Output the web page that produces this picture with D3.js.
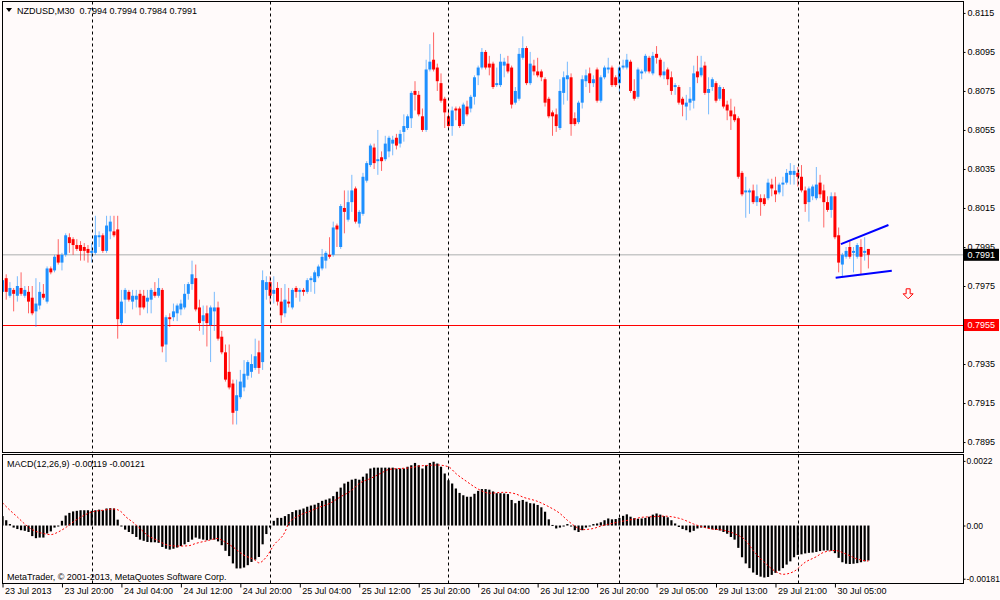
<!DOCTYPE html>
<html>
<head>
<meta charset="utf-8">
<script src="https://cdn.jsdelivr.net/npm/d3@7"></script>
<style>
  body { margin: 0; background: #fffafa; }
  text { font-family: "Liberation Sans", Arial, sans-serif; }
</style>
</head>
<body>
<div id="chart"></div>
<script>
// NZDUSD M30 bars (one entry per bar, oldest first)
const opens = [
  0.7972,0.7979,0.7970,0.7973,0.7970,0.7974,0.7970,0.7972,0.7969,0.7962,
  0.7965,0.7971,0.7967,0.7984,0.7983,0.7991,0.7987,0.7991,0.8000,0.7999,
  0.7996,0.7996,0.7995,0.7994,0.7992,0.7992,0.8000,0.8001,0.7993,0.8003,
  0.8003,0.8004,0.7956,0.7968,0.7972,0.7967,0.7968,0.7971,0.7970,0.7967,
  0.7968,0.7972,0.7970,0.7973,0.7945,0.7959,0.7959,0.7961,0.7963,0.7964,
  0.7971,0.7976,0.7979,0.7964,0.7957,0.7961,0.7955,0.7962,0.7964,0.7949,
  0.7941,0.7931,0.7925,0.7911,0.7918,0.7923,0.7929,0.7931,0.7933,0.7941,
  0.7936,0.7973,0.7977,0.7971,0.7974,0.7967,0.7961,0.7967,0.7964,0.7974,
  0.7972,0.7973,0.7972,0.7978,0.7977,0.7980,0.7984,0.7988,0.7991,0.7991,
  0.8006,0.7995,0.8015,0.8009,0.8018,0.8025,0.8007,0.8012,0.8029,0.8037,
  0.8046,0.8039,0.8041,0.8040,0.8044,0.8048,0.8051,0.8048,0.8054,0.8056,
  0.8061,0.8075,0.8073,0.8062,0.8055,0.8086,0.8091,0.8087,0.8079,0.8071,
  0.8062,0.8057,0.8066,0.8066,0.8058,0.8067,0.8066,0.8072,0.8083,0.8087,
  0.8095,0.8089,0.8089,0.8078,0.8078,0.8088,0.8089,0.8087,0.8069,0.8071,
  0.8092,0.8097,0.8079,0.8088,0.8085,0.8085,0.8081,0.8071,0.8064,0.8063,
  0.8056,0.8074,0.8081,0.8082,0.8061,0.8059,0.8069,0.8080,0.8084,0.8079,
  0.8086,0.8070,0.8082,0.8086,0.8087,0.8082,0.8079,0.8087,0.8087,0.8090,
  0.8075,0.8072,0.8084,0.8085,0.8092,0.8084,0.8094,0.8091,0.8083,0.8086,
  0.8082,0.8077,0.8077,0.8071,0.8067,0.8069,0.8070,0.8085,0.8083,0.8088,
  0.8074,0.8077,0.8079,0.8071,0.8076,0.8068,0.8065,0.8063,0.8061,0.8033,
  0.8023,0.8023,0.8024,0.8018,0.8020,0.8020,0.8020,0.8027,0.8024,0.8023,
  0.8027,0.8028,0.8032,0.8032,0.8033,0.8031,0.8024,0.8018,0.8021,0.8020,
  0.8028,0.8024,0.8018,0.8014,0.8021,0.8001,0.7986,0.7990,0.7995,0.7992,
  0.7990,0.7995,0.7992,0.7994
];
const highs = [
  0.7982,0.7981,0.7977,0.7974,0.7980,0.7982,0.7975,0.7975,0.7975,0.7979,
  0.7977,0.7976,0.7985,0.7985,0.7991,0.7999,0.7992,0.8002,0.8002,0.8000,
  0.7999,0.7998,0.7997,0.7996,0.7997,0.8011,0.8003,0.8002,0.8011,0.8011,
  0.8011,0.8011,0.7973,0.7974,0.7973,0.7973,0.7973,0.7973,0.7973,0.7973,
  0.7974,0.7977,0.7979,0.7974,0.7960,0.7961,0.7966,0.7966,0.7968,0.7976,
  0.7977,0.7988,0.7986,0.7968,0.7965,0.7965,0.7965,0.7972,0.7967,0.7952,
  0.7945,0.7945,0.7927,0.7927,0.7932,0.7937,0.7937,0.7940,0.7948,0.7947,
  0.7983,0.7980,0.7980,0.7980,0.7977,0.7974,0.7976,0.7974,0.7974,0.7975,
  0.7974,0.7974,0.7979,0.7980,0.7983,0.7986,0.7994,0.7993,0.8000,0.8008,
  0.8007,0.8017,0.8024,0.8024,0.8032,0.8026,0.8014,0.8033,0.8039,0.8048,
  0.8048,0.8055,0.8044,0.8052,0.8052,0.8052,0.8053,0.8055,0.8063,0.8063,
  0.8075,0.8080,0.8075,0.8066,0.8091,0.8099,0.8105,0.8089,0.8084,0.8072,
  0.8066,0.8067,0.8067,0.8067,0.8069,0.8070,0.8073,0.8083,0.8088,0.8097,
  0.8096,0.8093,0.8090,0.8087,0.8094,0.8092,0.8093,0.8088,0.8077,0.8097,
  0.8103,0.8098,0.8095,0.8091,0.8092,0.8086,0.8082,0.8072,0.8065,0.8066,
  0.8081,0.8085,0.8090,0.8084,0.8064,0.8070,0.8083,0.8086,0.8087,0.8083,
  0.8087,0.8083,0.8088,0.8092,0.8088,0.8083,0.8088,0.8091,0.8094,0.8091,
  0.8081,0.8087,0.8086,0.8094,0.8093,0.8095,0.8098,0.8092,0.8090,0.8087,
  0.8085,0.8079,0.8078,0.8072,0.8073,0.8077,0.8088,0.8093,0.8093,0.8090,
  0.8082,0.8082,0.8080,0.8078,0.8077,0.8070,0.8071,0.8067,0.8062,0.8034,
  0.8031,0.8025,0.8027,0.8027,0.8022,0.8022,0.8030,0.8030,0.8031,0.8028,
  0.8031,0.8035,0.8038,0.8037,0.8036,0.8037,0.8026,0.8026,0.8027,0.8036,
  0.8032,0.8027,0.8021,0.8023,0.8023,0.8005,0.7992,0.7995,0.7998,0.7995,
  0.7997,0.7999,0.8000,0.7994
];
const lows = [
  0.7971,0.7968,0.7969,0.7962,0.7967,0.7970,0.7969,0.7961,0.7960,0.7954,
  0.7963,0.7968,0.7966,0.7981,0.7982,0.7986,0.7983,0.7990,0.7992,0.7991,
  0.7993,0.7988,0.7988,0.7987,0.7987,0.7991,0.7995,0.7992,0.7992,0.7999,
  0.8000,0.7948,0.7955,0.7961,0.7967,0.7963,0.7964,0.7960,0.7963,0.7961,
  0.7961,0.7969,0.7969,0.7941,0.7936,0.7954,0.7957,0.7957,0.7960,0.7963,
  0.7968,0.7973,0.7962,0.7952,0.7950,0.7944,0.7936,0.7952,0.7947,0.7940,
  0.7926,0.7922,0.7904,0.7904,0.7917,0.7921,0.7927,0.7928,0.7932,0.7930,
  0.7932,0.7968,0.7966,0.7966,0.7965,0.7956,0.7959,0.7964,0.7963,0.7969,
  0.7967,0.7970,0.7971,0.7972,0.7971,0.7979,0.7983,0.7984,0.7989,0.7990,
  0.7995,0.7994,0.8002,0.8008,0.8013,0.8007,0.8005,0.8011,0.8028,0.8036,
  0.8035,0.8032,0.8034,0.8039,0.8041,0.8042,0.8045,0.8046,0.8049,0.8055,
  0.8056,0.8065,0.8062,0.8054,0.8054,0.8085,0.8085,0.8075,0.8069,0.8056,
  0.8056,0.8052,0.8060,0.8056,0.8057,0.8062,0.8064,0.8068,0.8078,0.8086,
  0.8086,0.8083,0.8076,0.8077,0.8077,0.8082,0.8084,0.8066,0.8068,0.8070,
  0.8091,0.8078,0.8078,0.8083,0.8082,0.8080,0.8067,0.8061,0.8052,0.8054,
  0.8055,0.8068,0.8070,0.8052,0.8057,0.8058,0.8066,0.8077,0.8074,0.8077,
  0.8069,0.8069,0.8081,0.8084,0.8077,0.8077,0.8074,0.8086,0.8086,0.8074,
  0.8070,0.8071,0.8081,0.8084,0.8084,0.8083,0.8089,0.8082,0.8081,0.8078,
  0.8073,0.8073,0.8068,0.8062,0.8060,0.8065,0.8066,0.8079,0.8082,0.8073,
  0.8063,0.8075,0.8069,0.8070,0.8066,0.8060,0.8055,0.8059,0.8030,0.8021,
  0.8010,0.8012,0.8017,0.8016,0.8011,0.8016,0.8019,0.8021,0.8018,0.8022,
  0.8021,0.8027,0.8027,0.8027,0.8026,0.8023,0.8013,0.8008,0.8019,0.8019,
  0.8020,0.8005,0.8013,0.8010,0.7999,0.7982,0.7980,0.7989,0.7989,0.7982,
  0.7989,0.7981,0.7988,0.7984
];
const closes = [
  0.7978,0.7972,0.7974,0.7971,0.7975,0.7971,0.7973,0.7967,0.7961,0.7966,
  0.7972,0.7969,0.7984,0.7982,0.7990,0.7987,0.7991,0.8001,0.7997,0.7996,
  0.7994,0.7993,0.7993,0.7992,0.7993,0.8001,0.8001,0.7993,0.8006,0.8008,
  0.8001,0.7958,0.7967,0.7973,0.7968,0.7970,0.7970,0.7964,0.7964,0.7969,
  0.7973,0.7970,0.7974,0.7944,0.7959,0.7958,0.7962,0.7965,0.7966,0.7971,
  0.7976,0.7981,0.7963,0.7956,0.7960,0.7956,0.7964,0.7964,0.7948,0.7941,
  0.7927,0.7923,0.7910,0.7919,0.7926,0.7930,0.7936,0.7935,0.7939,0.7933,
  0.7978,0.7977,0.7970,0.7973,0.7967,0.7960,0.7968,0.7966,0.7973,0.7972,
  0.7973,0.7972,0.7978,0.7979,0.7982,0.7985,0.7990,0.7992,0.7990,0.8005,
  0.8004,0.8016,0.8013,0.8018,0.8024,0.8008,0.8013,0.8031,0.8038,0.8047,
  0.8038,0.8040,0.8039,0.8048,0.8051,0.8050,0.8047,0.8053,0.8057,0.8062,
  0.8074,0.8073,0.8063,0.8055,0.8086,0.8090,0.8086,0.8080,0.8070,0.8064,
  0.8057,0.8065,0.8065,0.8057,0.8068,0.8063,0.8072,0.8082,0.8087,0.8095,
  0.8087,0.8087,0.8077,0.8079,0.8090,0.8090,0.8085,0.8068,0.8075,0.8094,
  0.8097,0.8079,0.8089,0.8085,0.8083,0.8082,0.8069,0.8062,0.8062,0.8057,
  0.8075,0.8082,0.8083,0.8058,0.8058,0.8069,0.8081,0.8083,0.8079,0.8081,
  0.8070,0.8082,0.8087,0.8087,0.8078,0.8078,0.8087,0.8088,0.8091,0.8075,
  0.8071,0.8086,0.8085,0.8093,0.8085,0.8093,0.8092,0.8083,0.8085,0.8081,
  0.8075,0.8078,0.8069,0.8068,0.8069,0.8071,0.8084,0.8082,0.8087,0.8074,
  0.8076,0.8081,0.8070,0.8077,0.8067,0.8065,0.8062,0.8060,0.8031,0.8022,
  0.8024,0.8024,0.8018,0.8021,0.8018,0.8017,0.8028,0.8025,0.8022,0.8027,
  0.8028,0.8033,0.8034,0.8034,0.8031,0.8024,0.8017,0.8025,0.8026,0.8027,
  0.8022,0.8018,0.8014,0.8021,0.8000,0.7987,0.7991,0.7993,0.7990,0.7993,
  0.7996,0.7990,0.7993,0.7991
];

// MACD(12,26,9) histogram, one value per bar
const macdHist = [
  0.00032,0.00018,0.00005,-0.00007,-0.00012,-0.00016,-0.00018,-0.00022,-0.00036,-0.00043,
  -0.00041,-0.00041,-0.00027,-0.00020,-0.00007,-0.00002,0.00016,0.00034,0.00043,0.00048,
  0.00050,0.00052,0.00052,0.00052,0.00050,0.00052,0.00054,0.00052,0.00058,0.00059,
  0.00058,0.00020,-0.00001,-0.00014,-0.00022,-0.00029,-0.00039,-0.00048,-0.00052,-0.00056,
  -0.00057,-0.00057,-0.00059,-0.00073,-0.00079,-0.00082,-0.00079,-0.00075,-0.00070,-0.00064,
  -0.00056,-0.00048,-0.00041,-0.00045,-0.00048,-0.00050,-0.00048,-0.00048,-0.00054,-0.00067,
  -0.00086,-0.00104,-0.00129,-0.00146,-0.00146,-0.00143,-0.00135,-0.00124,-0.00116,-0.00107,
  -0.00064,-0.00029,-0.00007,0.00016,0.00026,0.00026,0.00032,0.00039,0.00046,0.00052,
  0.00054,0.00058,0.00064,0.00068,0.00071,0.00077,0.00084,0.00088,0.00092,0.00100,
  0.00115,0.00129,0.00143,0.00149,0.00156,0.00159,0.00156,0.00166,0.00177,0.00194,
  0.00197,0.00197,0.00197,0.00197,0.00197,0.00197,0.00194,0.00194,0.00194,0.00200,
  0.00205,0.00213,0.00205,0.00194,0.00205,0.00213,0.00217,0.00211,0.00200,0.00177,
  0.00154,0.00143,0.00126,0.00111,0.00103,0.00098,0.00098,0.00108,0.00118,0.00124,
  0.00124,0.00122,0.00116,0.00110,0.00110,0.00109,0.00107,0.00087,0.00076,0.00084,
  0.00087,0.00081,0.00076,0.00075,0.00070,0.00062,0.00047,0.00021,0.00002,-0.00010,
  -0.00007,-0.00002,0.00005,-0.00001,-0.00016,-0.00022,-0.00016,-0.00007,-0.00001,0.00005,
  0.00007,0.00011,0.00018,0.00024,0.00021,0.00022,0.00026,0.00033,0.00038,0.00030,
  0.00025,0.00023,0.00024,0.00026,0.00030,0.00037,0.00041,0.00037,0.00032,0.00028,
  0.00018,0.00007,-0.00005,-0.00012,-0.00016,-0.00023,-0.00018,-0.00010,-0.00007,-0.00008,
  -0.00010,-0.00013,-0.00015,-0.00017,-0.00022,-0.00028,-0.00039,-0.00048,-0.00076,-0.00108,
  -0.00129,-0.00145,-0.00160,-0.00168,-0.00174,-0.00177,-0.00175,-0.00168,-0.00161,-0.00154,
  -0.00145,-0.00133,-0.00122,-0.00108,-0.00100,-0.00098,-0.00095,-0.00093,-0.00092,-0.00090,
  -0.00087,-0.00085,-0.00085,-0.00086,-0.00094,-0.00110,-0.00125,-0.00130,-0.00131,-0.00130,
  -0.00128,-0.00125,-0.00122,-0.00119
];

// signal line, points
const signalBars = [0,2,4,6,8,11,13,15,17,19,22,24,27,30,32,33,35,37,39,42,44,47,50,52,55,58,59,62,65,68,69,71,73,76,77,80,83,85,88,91,94,96,99,102,104,107,110,112,115,117,120,122,125,128,131,135,138,140,144,147,150,152,154,156,159,161,164,167,170,172,175,178,180,183,186,189,191,194,197,200,202,205,208,210,213,216,219,221,224,227,230,233];
const signalVals = [0.00077,0.00052,0.00029,0.00005,-0.00014,-0.00027,-0.00031,-0.00022,-0.00007,0.00012,0.00035,0.00046,0.00052,0.00056,0.00046,0.00032,0.00012,-0.00010,-0.00033,-0.00052,-0.00065,-0.00070,-0.00069,-0.00061,-0.00052,-0.00044,-0.00050,-0.00073,-0.00101,-0.00118,-0.00127,-0.00107,-0.00067,-0.00022,0.00007,0.00035,0.00050,0.00061,0.00075,0.00098,0.00120,0.00143,0.00160,0.00179,0.00191,0.00194,0.00197,0.00202,0.00205,0.00206,0.00200,0.00177,0.00149,0.00124,0.00110,0.00113,0.00108,0.00097,0.00082,0.00064,0.00041,0.00018,-0.00002,-0.00014,-0.00010,-0.00002,0.00007,0.00015,0.00022,0.00028,0.00030,0.00032,0.00030,0.00021,0.00005,-0.00007,-0.00012,-0.00016,-0.00028,-0.00051,-0.00085,-0.00125,-0.00156,-0.00166,-0.00156,-0.00125,-0.00106,-0.00091,-0.00085,-0.00097,-0.00114,-0.00121];

// axis labels
const timeLabelBars = [0,16,32,48,64,80,96,112,128,144,160,176,192,208,224];
const timeLabels = ["23 Jul 2013","23 Jul 20:00","24 Jul 04:00","24 Jul 12:00","24 Jul 20:00","25 Jul 04:00","25 Jul 12:00","25 Jul 20:00","26 Jul 04:00","26 Jul 12:00","26 Jul 20:00","29 Jul 05:00","29 Jul 13:00","29 Jul 21:00","30 Jul 05:00"];
const separatorBars = [24,72,120,166,214];
const priceTicks = [0.8115,0.8095,0.8075,0.8055,0.8035,0.8015,0.7995,0.7975,0.7955,0.7935,0.7915,0.7895];
const macdTicks = [0.0022,0,-0.00181];
const macdTickLabels = ["0.0022","0.00","-0.00181"];

// chart objects
const bidPrice = 0.7991;
const hLinePrice = 0.7955;
const channelUpper = [[225.6,0.79965],[238.4,0.80063]];
const channelLower = [[224.2,0.79792],[239.3,0.79828]];
const arrowBar = 243.7, arrowPrice = 0.7971;

const W = 1000, H = 600;
const left = 2.5, right = 963.5;
const mainTop = 1.5, mainBottom = 452.5;
const macdTop = 454.5, macdBottom = 583.5;

const bull = "#1e90ff", bear = "#ff0000";

const svg = d3.select("#chart").append("svg")
  .attr("width", W).attr("height", H)
  .style("display", "block")
  .style("background", "#fffafa");

const x = d3.scaleLinear().domain([0, 259]).range([2.5, 965]);
const y = d3.scaleLinear().domain([0.78899, 0.81206]).range([452, 2]);
const ym = d3.scaleLinear().domain([-0.001956, 0.0024]).range([583, 455]);

// clip regions
const defs = svg.append("defs");
defs.append("clipPath").attr("id", "clipMain").append("rect")
  .attr("x", left).attr("y", mainTop).attr("width", right - left).attr("height", mainBottom - mainTop);
defs.append("clipPath").attr("id", "clipMacd").append("rect")
  .attr("x", left).attr("y", macdTop).attr("width", right - left).attr("height", macdBottom - macdTop);

const main = svg.append("g").attr("clip-path", "url(#clipMain)");
const macd = svg.append("g").attr("clip-path", "url(#clipMacd)");

// day separators in both panels
separatorBars.forEach(b => {
  const sx = Math.round(x(b)) + 0.5;
  [[mainTop, mainBottom], [macdTop, macdBottom]].forEach(([t, bt]) => {
    svg.append("line")
      .attr("x1", sx).attr("x2", sx).attr("y1", t).attr("y2", bt)
      .attr("stroke", "#000").attr("stroke-width", 1)
      .attr("stroke-dasharray", "3,3");
  });
});

// bid line and horizontal line
main.append("line")
  .attr("x1", left).attr("x2", right)
  .attr("y1", y(bidPrice)).attr("y2", y(bidPrice))
  .attr("stroke", "#c8c8c8").attr("stroke-width", 1.5);
main.append("line")
  .attr("x1", left).attr("x2", right)
  .attr("y1", Math.round(y(hLinePrice)) + 0.5).attr("y2", Math.round(y(hLinePrice)) + 0.5)
  .attr("stroke", "#ff0000").attr("stroke-width", 1);

// candles
const bars = d3.range(opens.length);
const colorOf = i => closes[i] >= opens[i] ? bull : bear;

main.selectAll(".wick").data(bars).join("line")
  .attr("class", "wick")
  .attr("x1", i => x(i)).attr("x2", i => x(i))
  .attr("y1", i => y(highs[i])).attr("y2", i => y(lows[i]))
  .attr("stroke", colorOf).attr("stroke-opacity", 0.6).attr("stroke-width", 1);

main.selectAll(".body").data(bars).join("rect")
  .attr("class", "body")
  .attr("x", i => x(i) - 1.5)
  .attr("width", 3)
  .attr("y", i => Math.min(y(opens[i]), y(closes[i])))
  .attr("height", i => Math.max(1, Math.abs(y(opens[i]) - y(closes[i]))))
  .attr("fill", colorOf);

// channel lines
[channelUpper, channelLower].forEach(pts => {
  main.append("path")
    .attr("d", d3.line().x(d => x(d[0])).y(d => y(d[1]))(pts))
    .attr("fill", "none").attr("stroke", "#0000ff").attr("stroke-width", 2);
});

// sell arrow
{
  const cx = x(arrowBar), cy = y(arrowPrice);
  main.append("path")
    .attr("d", `M${cx - 2},${cy - 5} h4 v5 h3 l-5,5 l-5,-5 h3 z`)
    .attr("fill", "#fffafa").attr("stroke", "#ff0000").attr("stroke-width", 1);
}

// MACD histogram
macd.selectAll(".hist").data(bars).join("rect")
  .attr("class", "hist")
  .attr("x", i => x(i) - 1.1)
  .attr("width", 2.2)
  .attr("y", i => Math.min(ym(0), ym(macdHist[i])))
  .attr("height", i => Math.max(1, Math.abs(ym(macdHist[i]) - ym(0))))
  .attr("fill", "#000");

// signal line
macd.append("path")
  .attr("d", d3.line().curve(d3.curveMonotoneX)
    .x((d, k) => x(signalBars[k])).y(d => ym(d))(signalVals))
  .attr("fill", "none").attr("stroke", "#ff0000").attr("stroke-width", 1)
  .attr("stroke-dasharray", "2,2");

// panel frames
svg.append("rect").attr("x", left).attr("y", mainTop)
  .attr("width", right - left).attr("height", mainBottom - mainTop)
  .attr("fill", "none").attr("stroke", "#000");
svg.append("rect").attr("x", left).attr("y", macdTop)
  .attr("width", right - left).attr("height", macdBottom - macdTop)
  .attr("fill", "none").attr("stroke", "#000");

// price axis
const priceAxis = svg.append("g")
  .attr("transform", `translate(${right},0)`)
  .call(d3.axisRight(y).tickValues(priceTicks).tickSize(2).tickFormat(d3.format(".4f")));
const macdAxis = svg.append("g")
  .attr("transform", `translate(${right},0)`)
  .call(d3.axisRight(ym).tickValues(macdTicks).tickSize(2).tickFormat((d, k) => macdTickLabels[k]));
const timeAxis = svg.append("g")
  .attr("transform", `translate(0,${macdBottom})`)
  .call(d3.axisBottom(x).tickValues(timeLabelBars).tickSize(4).tickFormat((d, k) => timeLabels[k]));

[priceAxis, macdAxis, timeAxis].forEach(g => {
  g.select(".domain").remove();
  g.selectAll("text").attr("font-family", "Liberation Sans, Arial, sans-serif")
    .attr("font-size", 9).attr("fill", "#000");
  g.selectAll(".tick line").attr("stroke", "#000");
});
priceAxis.selectAll("text").attr("x", 4);
macdAxis.selectAll("text").attr("x", 3).attr("font-size", 8.5);
timeAxis.selectAll("text").attr("text-anchor", "start").attr("x", 2).attr("y", 4);

// price labels
function priceBox(p, fill) {
  const cy = y(p);
  svg.append("rect").attr("x", right + 0.5).attr("y", cy - 6)
    .attr("width", 35).attr("height", 12).attr("fill", fill);
  svg.append("text").attr("x", right + 4).attr("y", cy).attr("dy", "0.34em")
    .attr("font-size", 9).attr("fill", "#fff").text(d3.format(".4f")(p));
}
priceBox(bidPrice, "#000");
priceBox(hLinePrice, "#ff0000");

// titles
svg.append("path").attr("d", "M6,8 h6 l-3,4 z").attr("fill", "#000");
svg.append("text").attr("x", 17).attr("y", 13.5).attr("font-size", 9)
  .attr("xml:space", "preserve").style("white-space", "pre")
  .text("NZDUSD,M30  " + [opens[opens.length - 1], highs[highs.length - 1], lows[lows.length - 1], closes[closes.length - 1]].map(d3.format(".4f")).join(" "));
svg.append("text").attr("x", 7).attr("y", 467).attr("font-size", 9)
  .text("MACD(12,26,9) -0.00119 -0.00121");
svg.append("text").attr("x", 7).attr("y", 580).attr("font-size", 9)
  .text("MetaTrader, \u00a9 2001-2013, MetaQuotes Software Corp.");
</script>
</body>
</html>
